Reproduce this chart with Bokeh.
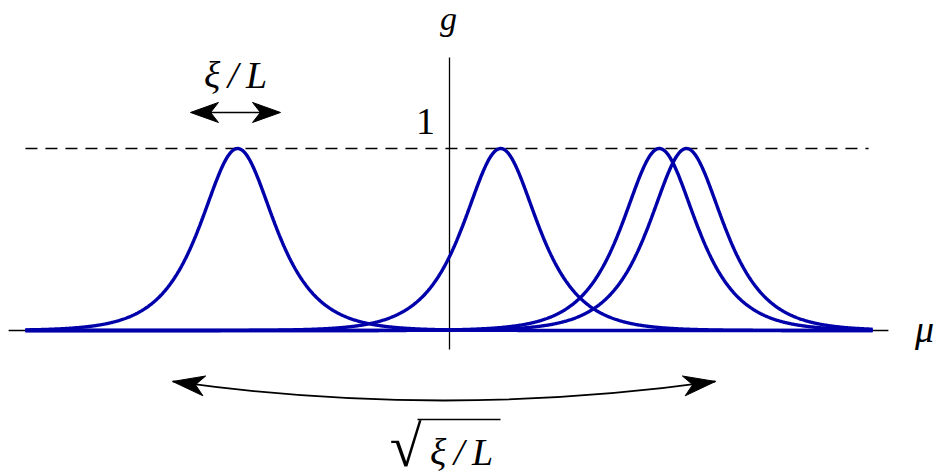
import numpy as np
from bokeh.plotting import figure
from bokeh.models import Range1d
from bokeh.core.properties import value
from bokeh.embed import file_html
from bokeh.resources import INLINE

# --- data -----------------------------------------------------------------
# centres of the localised profiles g(mu), in units of xi/L
peak_centers = [-6.42, 1.55, 6.36, 7.18]
peak_heights = [1.0, 1.0, 1.0, 1.0]
peak_widths = [1.0, 1.0, 1.0, 1.0]
mu_start, mu_end = -12.85, 12.82          # extent of the drawn profiles
reference_level = 1.0                     # dashed line g = 1
tick_labels = ["1"]

# --- canvas geometry ------------------------------------------------------
W, H = 942, 472
PX_X, PX_Y = 33.0, 182.0                  # pixels per unit of mu and of g
ORIGIN_X, ORIGIN_Y = 449.0, 330.0         # pixel position of (0, 0)


def dx(px):
    return (px - ORIGIN_X) / PX_X


def dy(py):
    return (ORIGIN_Y - py) / PX_Y


p = figure(width=W, height=H,
           x_range=Range1d(dx(0), dx(W)),
           y_range=Range1d(dy(H), dy(0)),
           x_axis_location=None, y_axis_location=None,
           output_backend="svg", toolbar_location=None,
           min_border=0, min_border_left=0, min_border_right=0,
           min_border_top=0, min_border_bottom=0)
p.grid.visible = False
p.outline_line_color = None
p.background_fill_color = "white"
p.border_fill_color = "white"

FONT = value("Liberation Serif")
INK = "black"
BLUE = "#0000aa"

# axes through the origin
p.segment(x0=[-13.36], y0=[0.0], x1=[13.30], y1=[0.0], line_color=INK, line_width=1.3)
p.segment(x0=[0.0], y0=[1.50], x1=[0.0], y1=[-0.105], line_color=INK, line_width=1.3)

# dashed reference level g = 1
p.segment(x0=[mu_start], y0=[reference_level], x1=[12.70], y1=[reference_level],
          line_color=INK, line_width=1.3, line_dash="12 8")

# profiles g(mu) = h * sech((mu - c) / w)
mu = np.linspace(mu_start, mu_end, 1200)
for c, h, w in zip(peak_centers, peak_heights, peak_widths):
    g = h / np.cosh((mu - c) / w)
    p.line(mu, g, line_color=BLUE, line_width=3.4)


# --- arrows ---------------------------------------------------------------
def head(tip_x, tip_y, ux, uy, length=28.0, half_w=10.0, notch=0.72):
    """Arrow head polygon in data units; (ux, uy) is the pointing direction in screen pixels (y up)."""
    n = np.hypot(ux, uy)
    ux, uy = ux / n, uy / n
    vx, vy = -uy, ux
    pts = [(0.0, 0.0), (-length, half_w), (-notch * length, 0.0), (-length, -half_w)]
    xs = [tip_x + (a * ux + b * vx) / PX_X for a, b in pts]
    ys = [tip_y + (a * uy + b * vy) / PX_Y for a, b in pts]
    return xs, ys


# width marker xi/L above the left profile
wl, wr, wy = -7.85, -5.12, 1.198
p.segment(x0=[wl + 10 / PX_X], y0=[wy], x1=[wr - 10 / PX_X], y1=[wy], line_color=INK, line_width=1.6)
for tx, sx in [(wl, -1.0), (wr, 1.0)]:
    xs, ys = head(tx, wy, sx, 0.0, length=28, half_w=10)
    p.patch(xs, ys, fill_color=INK, line_color=INK, line_width=1)

# curved double arrow below the axis
ax0, ax1, ay = -8.39, 8.06, -0.280
acx, acy = -0.17, -0.489
p.quadratic(x0=[ax0], y0=[ay], x1=[ax1], y1=[ay], cx=[acx], cy=[acy],
            line_color=INK, line_width=1.8)
for tx in [ax0, ax1]:
    ux = (tx - acx) * PX_X
    uy = (ay - acy) * PX_Y
    xs, ys = head(tx, ay, ux, uy, length=32, half_w=10)
    p.patch(xs, ys, fill_color=INK, line_color=INK, line_width=1)

# --- labels -----------------------------------------------------------------
common = dict(text_align="center", text_baseline="alphabetic", text_color=INK)
p.text(x=[dx(448)], y=[dy(18)], text=["g"], text_font=FONT, text_font_style="italic",
       text_font_size="34px", **common)
p.text(x=[dx(425)], y=[dy(121)], text=tick_labels, text_font=FONT,
       text_font_size="38px", **common)
p.text(x=[dx(924)], y=[dy(328)], text=["μ"], text_font=FONT, text_font_style="italic",
       text_font_size="38px", **common)
p.text(x=[dx(235)], y=[dy(74)], text=["ξ\u2009/\u2009L"], text_font=FONT, text_font_style="italic",
       text_font_size="38px", **common)

# sqrt(xi/L) under the curved arrow
p.text(x=[dx(421)], y=[dy(443)], text=["√"], text_font=value("Noto Sans"),
       text_font_size="58px", text_align="right", text_baseline="alphabetic", text_color=INK)
p.segment(x0=[dx(417)], y0=[dy(419)], x1=[dx(500)], y1=[dy(419)], line_color=INK, line_width=1.6)
p.text(x=[dx(461)], y=[dy(451)], text=["ξ\u2009/\u2009L"], text_font=FONT,
       text_font_style="italic", text_font_size="38px", **common)

open("out.html", "w").write(file_html(p, INLINE))
